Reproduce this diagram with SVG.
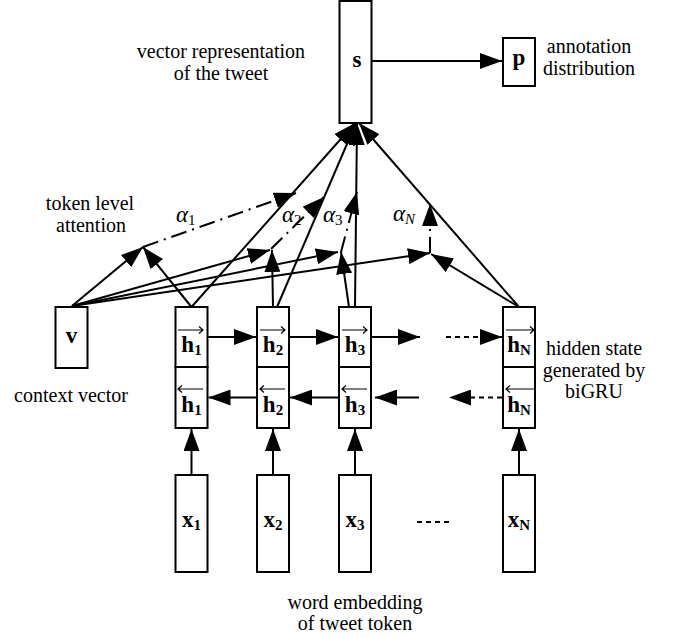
<svg xmlns="http://www.w3.org/2000/svg" width="678" height="638" viewBox="0 0 678 638">
<style>
.box{fill:#fff;stroke:#000;stroke-width:2}
.ln{stroke:#000;stroke-width:2;fill:none}
.arr{marker-end:url(#ah)}
.dd{stroke-dasharray:16 6 2 6}
.dot{stroke-dasharray:5 4}
.lbl{font-family:"Liberation Serif",serif;font-size:20px;fill:#000;text-anchor:middle}
.m{font-family:"Liberation Serif",serif;font-weight:bold;font-size:23px;text-anchor:middle;fill:#000}
.sub{font-size:15px}
.a{font-family:"Liberation Serif",serif;font-style:italic;font-size:23px;fill:#000}
.up{font-style:normal}
.acc{stroke:#000;stroke-width:1.2;fill:none}
</style>
<defs>
<marker id="ah" viewBox="0 0 22 16" refX="22" refY="8" markerWidth="22" markerHeight="16" markerUnits="userSpaceOnUse" orient="auto">
<path d="M0,0 L22,8 L0,16 Z" fill="#000"/>
</marker>
</defs>
<rect width="678" height="638" fill="#fff"/>

<g id="connectors">
<path class="ln arr" d="M371.5,61 H502"/>
<path class="ln arr" d="M191.5,474 V429"/>
<path class="ln arr" d="M273,474 V429"/>
<path class="ln arr" d="M355,474 V429"/>
<path class="ln arr" d="M519,474 V429"/>
<path class="ln arr" d="M207.5,337 H256"/>
<path class="ln arr" d="M289,337 H338"/>
<path class="ln arr" d="M371,337 H420"/>
<path class="ln arr dot" d="M446,337 H502"/>
<path class="ln arr" d="M257,397.5 H208.5"/>
<path class="ln arr" d="M339,397.5 H290"/>
<path class="ln arr" d="M419,397.5 H375"/>
<path class="ln arr dot" d="M502,397.5 H449"/>
<path class="ln arr" d="M72,306 L143,247"/>
<path class="ln arr" d="M72,306 L270,250"/>
<path class="ln arr" d="M72,306 L338,252"/>
<path class="ln arr" d="M72,306 L430,253"/>
<path class="ln arr" d="M191.5,307 L143,247"/>
<path class="ln arr" d="M273,307 L272,250"/>
<path class="ln arr" d="M349,307 L341,252"/>
<path class="ln arr" d="M519,307 L431,254"/>
<path class="ln arr" d="M191.5,307 L355,123"/>
<path class="ln arr" d="M277,307 L356,123"/>
<path class="ln arr" d="M355,307 L357,123"/>
<path class="ln arr" d="M519,307 L359,123"/>
<path class="ln arr dd" d="M143,247 L296,193"/>
<path class="ln arr dd" d="M271,249 L324,197"/>
<path class="ln arr dd" d="M341,252 L357,192"/>
<path class="ln arr dd" d="M430,253 L430,204"/>
<path class="ln dot" d="M417,522 H451"/>
</g>

<g id="s">
<rect class="box" x="339.5" y="1" width="32" height="122"/>
<text class="m" x="357" y="67">s</text>
</g>
<g id="p">
<rect class="box" x="503" y="38" width="32" height="48"/>
<text class="m" x="519" y="65">p</text>
</g>
<g id="v">
<rect class="box" x="55.5" y="307" width="32" height="61"/>
<text class="m" x="71.5" y="343">v</text>
</g>

<g id="h1">
<rect class="box" x="175.5" y="307" width="32" height="60"/>
<rect class="box" x="175.5" y="367" width="32" height="61"/>
<text class="m" x="191.5" y="352">h<tspan class="sub" dy="3">1</tspan></text>
<path class="acc" d="M178,330 H203 M199,326.5 L203,330 L199,333.5"/>
<text class="m" x="191.5" y="412">h<tspan class="sub" dy="3">1</tspan></text>
<path class="acc" d="M178,389 H203 M182,385.5 L178,389 L182,392.5"/>
</g>
<g id="h2">
<rect class="box" x="257" y="307" width="32" height="60"/>
<rect class="box" x="257" y="367" width="32" height="61"/>
<text class="m" x="273" y="352">h<tspan class="sub" dy="3">2</tspan></text>
<path class="acc" d="M260,330 H285 M281,326.5 L285,330 L281,333.5"/>
<text class="m" x="273" y="412">h<tspan class="sub" dy="3">2</tspan></text>
<path class="acc" d="M260,389 H285 M264,385.5 L260,389 L264,392.5"/>
</g>
<g id="h3">
<rect class="box" x="339" y="307" width="32" height="60"/>
<rect class="box" x="339" y="367" width="32" height="61"/>
<text class="m" x="355" y="352">h<tspan class="sub" dy="3">3</tspan></text>
<path class="acc" d="M342,330 H367 M363,326.5 L367,330 L363,333.5"/>
<text class="m" x="355" y="412">h<tspan class="sub" dy="3">3</tspan></text>
<path class="acc" d="M342,389 H367 M346,385.5 L342,389 L346,392.5"/>
</g>
<g id="hN">
<rect class="box" x="503" y="307" width="32" height="60"/>
<rect class="box" x="503" y="367" width="32" height="61"/>
<text class="m" x="519" y="352">h<tspan class="sub" dy="3">N</tspan></text>
<path class="acc" d="M506,330 H534 M530,326.5 L534,330 L530,333.5"/>
<text class="m" x="519" y="412">h<tspan class="sub" dy="3">N</tspan></text>
<path class="acc" d="M506,389 H534 M510,385.5 L506,389 L510,392.5"/>
</g>

<g id="x1">
<rect class="box" x="175.5" y="475" width="32" height="97"/>
<text class="m" x="191.5" y="527">x<tspan class="sub" dy="3">1</tspan></text>
</g>
<g id="x2">
<rect class="box" x="257" y="475" width="32" height="97"/>
<text class="m" x="273" y="527">x<tspan class="sub" dy="3">2</tspan></text>
</g>
<g id="x3">
<rect class="box" x="339" y="475" width="32" height="97"/>
<text class="m" x="355" y="527">x<tspan class="sub" dy="3">3</tspan></text>
</g>
<g id="xN">
<rect class="box" x="503" y="475" width="32" height="97"/>
<text class="m" x="519" y="527">x<tspan class="sub" dy="3">N</tspan></text>
</g>

<g id="alpha-labels">
<text class="a" x="176" y="222">α<tspan class="sub up" dy="3">1</tspan></text>
<text class="a" x="282" y="222">α<tspan class="sub up" dy="3">2</tspan></text>
<text class="a" x="323" y="222">α<tspan class="sub up" dy="3">3</tspan></text>
<text class="a" x="393" y="221">α<tspan class="sub" dy="3">N</tspan></text>
</g>

<g id="annotations">
<text class="lbl" x="221" y="58">vector representation</text>
<text class="lbl" x="221" y="80">of the tweet</text>
<text class="lbl" x="589" y="53">annotation</text>
<text class="lbl" x="589" y="75">distribution</text>
<text class="lbl" x="90" y="210">token level</text>
<text class="lbl" x="91" y="232">attention</text>
<text class="lbl" x="71" y="402">context vector</text>
<text class="lbl" x="594" y="355">hidden state</text>
<text class="lbl" x="594" y="377">generated by</text>
<text class="lbl" x="594" y="398">biGRU</text>
<text class="lbl" x="355" y="609">word embedding</text>
<text class="lbl" x="355" y="630">of tweet token</text>
</g>
</svg>
